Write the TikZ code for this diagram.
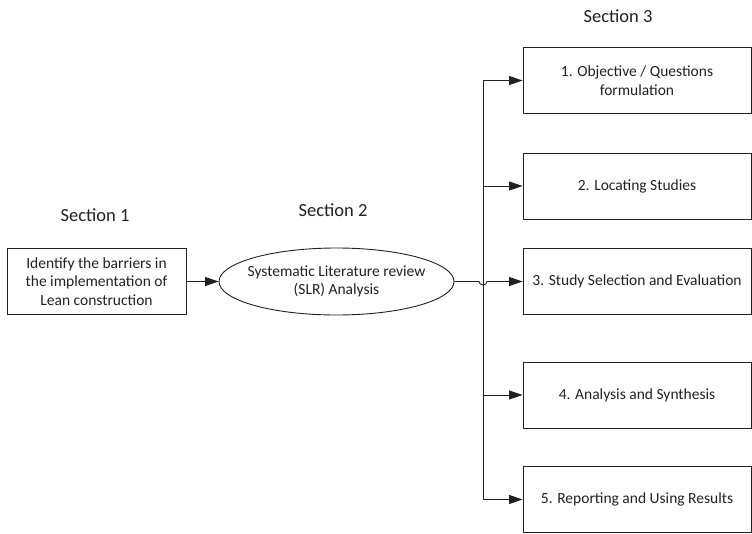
\documentclass[tikz,border=0pt]{standalone}
\usepackage{fontspec}
\setmainfont{Carlito}
\usetikzlibrary{arrows.meta,shapes.geometric}
\definecolor{ink}{rgb}{0.13,0.13,0.13}
\tikzset{
  box/.style={draw=ink, line width=0.9pt, rectangle, inner sep=0pt,
    align=center, text=ink, font=\fontsize{15.5}{18.5}\selectfont},
  stepbox/.style={box, minimum width=228pt, minimum height=66pt},
  oval/.style={draw=ink, line width=0.9pt, ellipse, inner sep=0pt,
    minimum width=235pt, minimum height=67pt},
  label/.style={align=center, text=ink, inner sep=0pt,
    font=\fontsize{15.5}{18.5}\selectfont},
  heading/.style={text=ink, font=\fontsize{18.5}{22}\selectfont, inner sep=0pt},
  link/.style={draw=ink, line width=0.9pt},
  arr/.style={link, -{Triangle[length=13.5pt,width=9pt]}}
}
\begin{document}
\begin{tikzpicture}[x=1pt, y=-1pt]
  \useasboundingbox (0,0) rectangle (752,533);

  % headings
  \node[heading] (h1) at (95,215) {Section 1};
  \node[heading] (h2) at (333,210) {Section 2};
  \node[heading] (h3) at (618,16) {Section 3};

  % main flow
  \node[box, minimum width=179pt, minimum height=66pt] (barriers) at (96.5,281.5)
    {Identify the barriers in\\the implementation of\\Lean construction};
  \node[oval] (slr) at (336.5,281.5) {};
  \node[label] (slrtext) at (slr.center) {Systematic Literature review\\(SLR) Analysis};

  % SLR steps
  \node[stepbox] (s1) at (637,80.5) {1. Objective / Questions\\formulation};
  \node[stepbox] (s2) at (637,186) {2. Locating Studies};
  \node[stepbox] (s3) at (637,281.5) {3. Study Selection and Evaluation};
  \node[stepbox] (s4) at (637,395) {4. Analysis and Synthesis};
  \node[stepbox] (s5) at (637,499.5) {5. Reporting and Using Results};

  % distribution spine
  \coordinate (top) at (483,80.5);
  \coordinate (bot) at (483,499.5);
  \coordinate (hop) at (479,281.5);

  \draw[arr] (barriers.east) -- (slr.west);
  \draw[link] (top) -- (bot);
  \draw[arr] (top) -- (s1.west);
  \draw[arr] (top |- s2.west) -- (s2.west);
  \draw[arr] (top |- s4.west) -- (s4.west);
  \draw[arr] (bot) -- (s5.west);
  \draw[arr] (slr.east) -- (hop) arc[start angle=180, end angle=0, x radius=4pt, y radius=-3.5pt] -- (s3.west);
\end{tikzpicture}
\end{document}
